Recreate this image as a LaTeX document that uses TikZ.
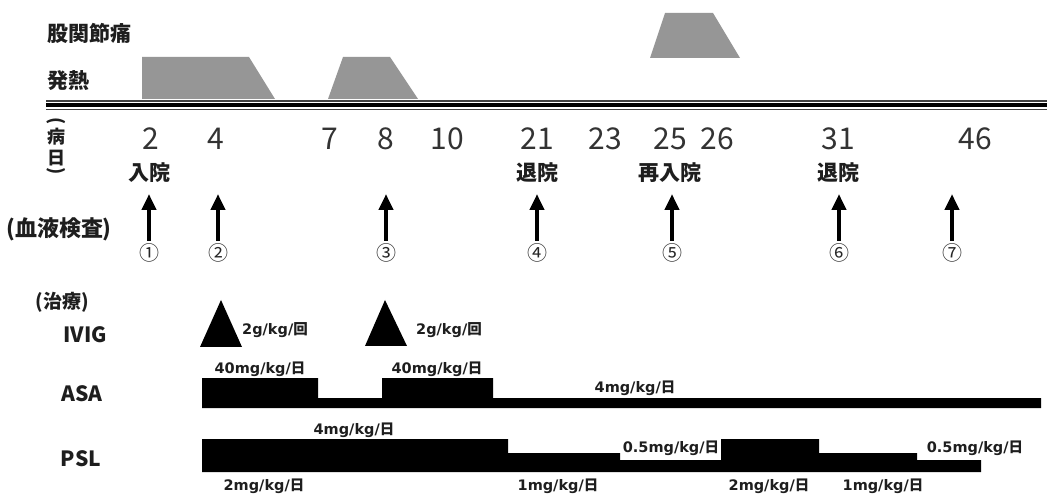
\documentclass[tikz,border=0pt]{standalone}
\usepackage{fontspec}
\setmainfont{Liberation Sans}
\newfontfamily\cjk{Noto Sans CJK JP}
\newfontfamily\dvs{DejaVu Sans}
\usetikzlibrary{arrows.meta}
\definecolor{symgray}{RGB}{150,150,150}
\definecolor{txt}{RGB}{30,30,30}
\newcommand{\dose}[2]{{\dvs\bfseries #1}{\cjk\bfseries #2}}
\tikzset{
  jp/.style={font=\cjk\bfseries\fontsize{21}{21}\selectfont, inner sep=0pt, text=txt},
  jpsmall/.style={font=\cjk\bfseries\fontsize{18}{18}\selectfont, inner sep=0pt, text=txt},
  day/.style={font=\cjk\fontsize{30}{30}\selectfont, inner sep=0pt, text=black!80},
  circnum/.style={font=\cjk\fontsize{20}{20}\selectfont, inner sep=0pt, text=black!85},
  drug/.style={font=\cjk\bfseries\fontsize{21}{21}\selectfont, inner sep=0pt, text=txt},
  doselab/.style={font=\fontsize{14.5}{14.5}\selectfont, inner sep=0pt, text=txt},
  bar/.style={fill=black, draw=none},
  sym/.style={fill=symgray, draw=none},
  tri/.style={fill=black, draw=none},
  testarrow/.style={line width=4.5pt, black, -{Triangle[width=14pt,length=16pt]}},
}
\begin{document}
\begin{tikzpicture}[x=1pt,y=-1pt]
\useasboundingbox (0,0) rectangle (1047,494);
\fill[white] (0,0) rectangle (1047,494);

% symptom labels
\node[jp] (hip) at (89,33) {股関節痛};
\node[jp] (fever) at (68,81) {発熱};

% symptom shapes
\fill[sym] (142,99) -- (142,57) -- (249,57) -- (275,99) -- cycle;
\fill[sym] (328,99) -- (343,57) -- (390,57) -- (418,99) -- cycle;
\fill[sym] (650,58) -- (665,13) -- (713,13) -- (740,58) -- cycle;

% double time line
\coordinate (la) at (46,101); \coordinate (ra) at (1047,101);
\coordinate (lb) at (46,105); \coordinate (rb) at (1047,105);
\coordinate (lc) at (46,109.5); \coordinate (rc) at (1047,109.5);
\draw[black!75, line width=1.3pt] (la) -- (ra);
\draw[black, line width=4.5pt] (lb) -- (rb);
\draw[black!75, line width=1.3pt] (lc) -- (rc);

% disease day label (vertical)
\node[jpsmall, rotate=-90] (p1) at (56,121.5) {(};
\node[jpsmall] (byo) at (56,137) {病};
\node[jpsmall] (nichi) at (56,158) {日};
\node[jpsmall, rotate=-90] (p2) at (56,171) {)};

% day numbers
\node[day] (d2) at (151,139) {2};
\node[day] (d4) at (216,139) {4};
\node[day] (d7) at (330,139) {7};
\node[day] (d8) at (386,139) {8};
\node[day] (d10) at (447,139) {10};
\node[day] (d21) at (537,139) {21};
\node[day] (d23) at (605,139) {23};
\node[day] (d25) at (670,139) {25};
\node[day] (d26) at (717,139) {26};
\node[day] (d31) at (838,139) {31};
\node[day] (d46) at (975,139) {46};

% admission labels
\node[jp] (adm1) at (149,173) {入院};
\node[jp] (dis1) at (537,173) {退院};
\node[jp] (adm2) at (670,173) {再入院};
\node[jp] (dis2) at (838,173) {退院};

% blood tests
\node[jp, font=\cjk\bfseries\fontsize{22}{22}\selectfont] (blood) at (59,229) {(血液検査)};
\foreach \i/\x/\s in {1/149/①,2/218/②,3/386/③,4/537/④,5/672/⑤,6/839/⑥,7/952/⑦}{
  \coordinate (t\i) at (\x,194);
  \coordinate (b\i) at (\x,241);
  \node[circnum] (c\i) at (\x,253) {\s};
  \draw[testarrow] (b\i) -- (t\i);
}

% treatment
\node[jp, font=\cjk\bfseries\fontsize{19}{19}\selectfont] (treat) at (62,302) {(治療)};
\node[drug] (ivig) at (85,335) {IVIG};
\node[drug] (asa) at (82,394) {ASA};
\node[drug] (psl) at (81,459) {PSL};

% IVIG triangles
\fill[tri] (200,347) -- (221,300) -- (242,347) -- cycle;
\fill[tri] (365,346) -- (385,300) -- (407,346) -- cycle;
\node[doselab] (iv1) at (275,330) {\dose{2g/kg/}{回}};
\node[doselab] (iv2) at (449,330) {\dose{2g/kg/}{回}};

% ASA bars
\fill[bar] (202,408) -- (202,378) -- (318,378) -- (318,398) -- (382,398) -- (382,378)
  -- (493,378) -- (493,398) -- (1041,398) -- (1041,408) -- cycle;
\node[doselab] (asa1) at (260,369) {\dose{40mg/kg/}{日}};
\node[doselab] (asa2) at (437,369) {\dose{40mg/kg/}{日}};
\node[doselab] (asa3) at (354,430) {\dose{4mg/kg/}{日}};
\node[doselab] (asa4) at (635,388) {\dose{4mg/kg/}{日}};

% PSL bars
\fill[bar] (202,472) -- (202,439) -- (508,439) -- (508,453) -- (620,453) -- (620,460)
  -- (721,460) -- (721,439) -- (819,439) -- (819,453) -- (917,453) -- (917,460)
  -- (981,460) -- (981,472) -- cycle;
\node[doselab] (psl1) at (264,486) {\dose{2mg/kg/}{日}};
\node[doselab] (psl2) at (558,486) {\dose{1mg/kg/}{日}};
\node[doselab] (psl3) at (671,448) {\dose{0.5mg/kg/}{日}};
\node[doselab] (psl4) at (769,486) {\dose{2mg/kg/}{日}};
\node[doselab] (psl5) at (883,486) {\dose{1mg/kg/}{日}};
\node[doselab] (psl6) at (975,448) {\dose{0.5mg/kg/}{日}};
\end{tikzpicture}
\end{document}
